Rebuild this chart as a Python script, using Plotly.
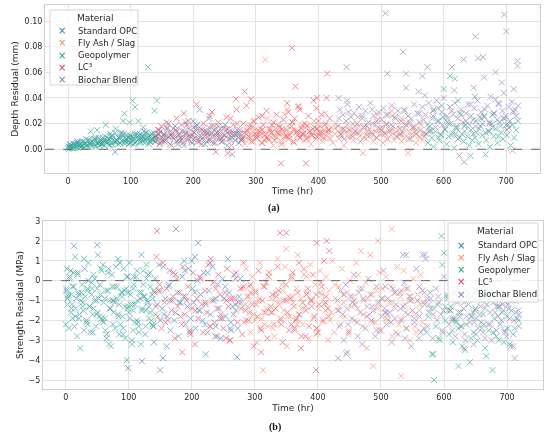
import plotly.graph_objects as go

# ---------------- data ----------------
materials = ["Standard OPC", "Fly Ash / Slag", "Geopolymer", "LC³", "Biochar Blend"]
colors = ["#2b78b5", "#fa7f5e", "#14a577", "#e8374f", "#8172b3"]

opc_time = [1, 4, 6, 9, 11, 14, 17, 19, 22, 25,
            27, 30, 33, 35, 38, 41, 43, 46, 49, 51,
            54, 57, 59, 62, 65, 67, 70, 73, 75, 78,
            81, 83, 86, 89, 91, 94, 97, 99, 102, 105,
            107, 110, 113, 115, 118, 121, 123, 126, 129, 131,
            134, 137, 139, 142, 145, 147, 150, 153, 155, 158,
            161, 163, 166, 169, 171, 174, 177, 179, 182, 185,
            187, 190, 193, 195, 198, 201, 203, 206, 209, 211,
            214, 217, 219, 222, 225, 227, 230, 233, 235, 238,
            241, 243, 246, 249, 251, 254, 257, 259, 262, 265,
            267, 270, 273, 275, 278, 13, 50, 75, 99, 121,
            150, 154, 175, 188, 210, 222, 225, 262, 272, 205,
            3, 8, 15, 21, 29, 36, 44, 52, 60, 68,
            76, 85, 93, 100, 108, 116, 124, 132, 140, 148,
            156, 164, 172, 180, 189, 197, 205, 213, 221, 229,
            237, 245, 253, 261, 269, 277, 120, 160, 200, 240]
opc_depth = [0.002, 0.003, 0.001, 0.004, 0.002, 0.005, 0.003, 0.006, 0.002, 0.004,
             0.005, 0.003, 0.007, 0.004, 0.006, 0.008, 0.003, 0.005, 0.009, 0.006,
             0.004, 0.007, 0.010, 0.005, 0.008, 0.003, 0.011, 0.006, 0.013, 0.007,
             0.009, 0.005, 0.010, 0.012, 0.006, 0.008, 0.004, 0.011, 0.007, 0.009,
             0.005, 0.012, 0.008, 0.006, 0.010, 0.014, 0.007, 0.009, 0.004, 0.011,
             0.008, 0.013, 0.006, 0.010, 0.015, 0.005, 0.009, 0.012, 0.007, 0.016,
             0.010, 0.004, 0.013, 0.008, 0.018, 0.006, 0.011, 0.009, 0.014, 0.003,
             0.012, 0.007, 0.016, 0.010, 0.005, 0.013, 0.009, 0.019, 0.006, 0.011,
             0.008, 0.014, 0.004, 0.012, 0.017, 0.007, 0.010, 0.015, 0.005, 0.013,
             0.009, 0.016, 0.006, 0.011, 0.019, 0.003, 0.012, 0.008, 0.014, 0.010,
             0.007, 0.015, 0.005, 0.012, 0.009, 0.004, 0.006, -0.002, 0.008, 0.010,
             0.006, 0.011, 0.004, 0.021, 0.031, 0.013, 0.024, -0.004, 0.012, 0.018,
             0.004, 0.002, 0.006, 0.003, 0.008, 0.005, 0.009, 0.004, 0.007, 0.010,
             0.006, 0.012, 0.008, 0.005, 0.011, 0.009, 0.013, 0.006, 0.010, 0.014,
             0.008, 0.011, 0.015, 0.007, 0.012, 0.009, 0.016, 0.010, 0.006, 0.013,
             0.011, 0.008, 0.015, 0.009, 0.012, 0.007, 0.017, 0.020, 0.022, 0.018]
opc_strength = [-0.5, -0.8, 0.2, -1.4, -0.3, -2.3, -0.9, 0.4, -1.7, -0.6,
                -1.1, 0.6, -2.0, -0.4, -1.3, -0.7, -2.6, 0.1, -1.0, -1.6,
                -0.2, -1.9, 0.8, -0.9, -2.9, -0.5, -1.4, 0.3, -2.2, -1.1,
                -0.3, -1.7, 0.9, -0.8, -2.4, -1.3, 0.2, -0.6, -1.9, -3.0,
                -0.4, -1.2, 0.5, -2.1, -0.9, -1.5, -0.2, -2.7, -1.0, 0.3,
                -1.6, -0.7, -2.3, 0.1, -1.2, -0.5, -2.0, -1.4, 0.7, -0.9,
                -1.8, -0.3, -2.5, -1.0, 0.4, -1.6, -0.6, -2.8, -1.1, 0.2,
                -0.8, -2.2, -1.3, 0.6, -1.9, -0.4, -1.1, -2.4, 0.0, -1.5,
                -0.7, -2.0, 0.4, -1.2, -2.6, -0.5, -1.7, 0.7, -1.0, -2.3,
                -0.2, -1.4, -2.9, 0.1, -0.9, -1.8, 1.1, -0.6, -2.1, -1.3,
                0.3, -1.5, -2.4, -0.8, -1.1, 1.75, 1.8, -1.0, -4.4, -4.05,
                -4.5, -3.9, 2.6, 1.0, 1.9, -3.7, 0.4, -2.5, -3.85, 1.2,
                -1.2, 0.5, -1.8, -0.7, -2.5, 0.0, -1.4, -0.9, -2.1, 0.6,
                -1.0, -2.7, -0.5, -1.6, 0.2, -2.3, -0.8, -1.3, -3.1, 0.8,
                -1.7, -0.2, -2.0, -1.1, 0.5, -2.6, -0.6, -1.5, -2.2, 0.9,
                -0.9, -1.9, -0.3, -2.4, -1.2, 0.1, 1.3, -3.3, 1.0, -2.8]

geo_time = [0, 1, 2, 3, 5, 6, 8, 9, 10, 12,
            13, 15, 16, 18, 20, 21, 23, 24, 26, 28,
            29, 31, 33, 34, 36, 38, 39, 41, 43, 44,
            46, 48, 50, 51, 53, 55, 57, 58, 60, 62,
            64, 65, 67, 69, 71, 72, 74, 76, 78, 80,
            81, 83, 85, 87, 88, 90, 92, 94, 96, 97,
            99, 101, 103, 105, 107, 108, 110, 112, 114, 116,
            117, 119, 121, 123, 125, 127, 128, 130, 132, 134,
            136, 138, 140, 103, 107, 128, 142, 90, 138, 98,
            572, 575, 578, 581, 584, 587, 590, 593, 596, 599,
            602, 605, 608, 611, 614, 617, 620, 623, 626, 629,
            632, 635, 638, 641, 644, 647, 650, 653, 656, 659,
            662, 665, 668, 671, 674, 677, 680, 683, 686, 689,
            692, 695, 698, 701, 704, 707, 710, 713, 716, 719,
            610, 618, 600, 650, 643, 667, 583, 597, 623, 678,
            4, 11, 19, 27, 35, 42, 49, 56, 63, 70,
            77, 84, 91, 98, 106, 113, 120, 127, 134, 139,
            579, 592, 606, 619, 633, 646, 660, 673, 687, 700]
geo_depth = [0.001, 0.000, 0.002, 0.001, 0.003, 0.001, 0.002, 0.004, 0.001, 0.003,
             0.002, 0.005, 0.001, 0.003, 0.004, 0.002, 0.006, 0.003, 0.002, 0.005,
             0.003, 0.007, 0.002, 0.004, 0.014, 0.003, 0.006, 0.004, 0.008, 0.002,
             0.015, 0.005, 0.003, 0.007, 0.004, 0.009, 0.005, 0.003, 0.019, 0.006,
             0.004, 0.008, 0.012, 0.005, 0.010, 0.003, 0.006, 0.016, 0.007, 0.004,
             0.009, 0.005, 0.013, 0.006, 0.022, 0.004, 0.008, 0.011, 0.006, 0.009,
             0.005, 0.010, 0.007, 0.004, 0.012, 0.006, 0.009, 0.022, 0.005, 0.008,
             0.011, 0.006, 0.009, 0.005, 0.013, 0.007, 0.010, 0.006, 0.008, 0.012,
             0.007, 0.009, 0.006, 0.038, 0.033, 0.064, 0.038, 0.028, 0.030, 0.021,
             0.012, 0.005, 0.018, 0.009, 0.002, 0.014, 0.022, 0.007, 0.011, 0.025,
             0.016, 0.004, 0.010, 0.020, 0.013, 0.001, 0.017, 0.008, 0.028, 0.012,
             0.006, 0.019, 0.010, 0.003, 0.015, 0.023, 0.009, 0.013, 0.004, 0.018,
             0.011, 0.026, 0.007, 0.014, 0.002, 0.020, 0.010, 0.016, 0.005, 0.021,
             0.013, 0.008, 0.024, 0.011, 0.017, 0.003, 0.019, 0.009, 0.015, 0.022,
             0.057, 0.055, 0.047, 0.041, -0.005, -0.004, 0.030, 0.034, 0.038, 0.027,
             0.002, 0.003, 0.004, 0.005, 0.004, 0.006, 0.005, 0.007, 0.006, 0.008,
             0.007, 0.009, 0.006, 0.010, 0.008, 0.011, 0.007, 0.009, 0.012, 0.010,
             0.015, 0.009, 0.021, 0.012, 0.018, 0.007, 0.024, 0.014, 0.010, 0.019]
geo_strength = [-2.2, -0.4, 0.6, -0.9, -2.4, 0.1, -1.6, -0.7, -1.2, 0.4,
                -0.3, 1.2, -1.4, -2.8, -0.6, -1.9, -3.4, -1.0, -0.2, -1.5,
                1.1, -0.8, -2.1, -0.5, 0.9, -1.3, -2.6, -0.1, -1.7, 0.3,
                -1.0, -2.3, -0.4, 1.3, -1.8, -0.7, 0.5, -2.0, -1.1, -1.9,
                -0.5, -2.7, 0.4, -3.2, -1.4, -3.3, -0.3, -1.6, -2.4, 0.7,
                -0.9, 1.1, -1.2, -2.2, -0.6, -1.8, 0.6, -2.9, -0.4, -4.0,
                -1.3, 0.9, -0.7, -3.2, -1.5, -0.2, -2.1, 0.2, -1.0, -2.6,
                -0.6, -3.2, -1.4, 0.5, -0.8, -2.3, 0.8, -1.1, -1.9, -0.3,
                -2.0, -0.9, -0.5, -1.2, -2.5, 0.1, -1.7, -0.6, -2.2, -1.4,
                -2.6, -1.8, -0.6, -3.7, -5.0, -2.3, -1.2, -3.0, 2.25, -1.5,
                -2.0, -0.8, -2.7, -1.3, -3.1, -1.9, -0.4, -2.4, -1.6, -3.3,
                -1.1, -2.2, -0.7, -4.1, -1.8, -2.6, -1.4, -3.0, -0.9, -2.1,
                -1.7, -3.4, -1.2, -2.5, -0.6, -4.5, -1.9, -2.8, -1.3, -2.2,
                -1.6, -3.1, -0.8, -2.4, -3.2, -1.5, -2.7, -1.0, -1.9, -2.3,
                -1.5, -2.0, 1.4, -0.5, -2.9, -3.8, -3.7, 0.8, -4.3, -2.6,
                -0.7, -1.9, 0.3, -1.3, -2.2, -0.4, -1.7, 0.6, -2.5, -1.0,
                -0.3, -1.8, -2.7, 0.2, -1.2, -2.0, -0.6, -1.5, 0.4, -2.3,
                -1.4, -2.9, -0.9, -2.1, -3.5, -1.6, -2.4, -0.7, -3.0, -1.8]

lc3_time = [141, 144, 146, 149, 152, 154, 157, 160, 162, 165,
            168, 170, 173, 176, 178, 181, 184, 186, 189, 192,
            194, 197, 200, 202, 205, 208, 210, 213, 216, 218,
            221, 224, 226, 229, 232, 234, 237, 240, 242, 245,
            248, 250, 253, 256, 258, 261, 264, 266, 269, 272,
            274, 277, 280, 282, 285, 288, 290, 293, 296, 298,
            301, 304, 306, 309, 312, 314, 317, 320, 322, 325,
            328, 330, 333, 336, 338, 341, 344, 346, 349, 352,
            354, 357, 360, 362, 365, 368, 370, 373, 376, 378,
            381, 384, 386, 389, 392, 394, 397, 400, 402, 405,
            408, 410, 413, 416, 418, 358, 282, 292, 268, 340,
            380, 398, 414, 145, 350, 185, 397, 236, 255, 363,
            143, 150, 158, 166, 174, 182, 190, 198, 206, 214,
            222, 230, 238, 246, 254, 262, 270, 278, 286, 294,
            302, 310, 318, 326, 334, 342, 350, 358, 366, 374,
            382, 390, 398, 406, 412, 417, 230, 310, 370, 260]
lc3_depth = [0.008, 0.015, 0.004, 0.018, 0.011, 0.006, 0.021, 0.009, 0.013, 0.003,
             0.016, 0.010, 0.024, 0.007, 0.012, 0.019, 0.005, 0.014, 0.009, 0.022,
             0.011, 0.006, 0.017, 0.013, 0.035, 0.008, 0.015, 0.004, 0.020, 0.010,
             0.014, 0.007, 0.026, 0.012, 0.005, 0.018, 0.009, 0.021, 0.013, 0.006,
             0.016, 0.011, 0.025, 0.008, 0.014, 0.003, 0.019, 0.012, 0.031, 0.009,
             0.015, 0.007, 0.020, 0.013, 0.034, 0.010, 0.017, 0.006, 0.022, 0.012,
             0.009, 0.025, 0.014, 0.005, 0.019, 0.011, 0.030, 0.008, 0.016, 0.013,
             0.021, 0.007, 0.027, 0.012, 0.017, 0.004, 0.023, 0.010, 0.015, 0.029,
             0.011, 0.018, 0.006, 0.024, 0.013, 0.033, 0.009, 0.016, 0.012, 0.020,
             0.008, 0.026, 0.014, 0.011, 0.038, 0.017, 0.010, 0.022, 0.013, 0.027,
             0.009, 0.019, 0.040, 0.015, 0.024, 0.079, 0.045, 0.039, 0.039, -0.011,
             -0.011, 0.040, 0.059, 0.012, 0.036, 0.028, 0.032, -0.002, -0.003, 0.049,
             0.012, 0.007, 0.017, 0.010, 0.014, 0.008, 0.019, 0.011, 0.006, 0.015,
             0.010, 0.018, 0.013, 0.009, 0.016, 0.012, 0.020, 0.008, 0.014, 0.017,
             0.011, 0.015, 0.009, 0.019, 0.013, 0.016, 0.010, 0.021, 0.014, 0.012,
             0.018, 0.011, 0.016, 0.013, 0.020, 0.015, 0.029, 0.026, 0.031, 0.024]
lc3_strength = [-0.6, 1.2, -1.8, -0.2, -2.4, 0.9, -1.1, -0.4, -2.0, 0.5,
                -1.5, -0.8, -2.9, 0.1, -1.3, -0.6, -2.2, 0.7, -1.7, -1.0,
                -0.3, -2.5, -1.4, 0.4, -3.2, -0.9, -1.9, 0.2, -1.2, -2.6,
                -0.5, -1.6, 0.8, -2.3, -1.0, -0.1, -2.8, -1.4, 0.3, -0.7,
                -1.9, -2.4, -0.6, 0.6, -1.3, -3.0, -0.9, -1.7, 0.1, -2.1,
                -1.1, -0.4, -2.7, 0.9, -1.5, -0.8, -2.0, -0.2, -1.2, -3.3,
                -0.6, -1.8, 0.5, -2.4, -1.0, -0.3, -1.6, -2.9, 0.2, -1.3,
                -0.7, -2.2, -1.4, 0.7, -0.5, -1.9, -3.1, -1.0, -0.2, -1.6,
                -2.5, -0.9, 0.4, -1.3, -2.0, -0.6, -1.7, -3.4, -1.1, 0.6,
                -1.5, -0.4, -2.3, -1.0, 0.3, -1.8, -0.7, -2.6, -1.2, -0.1,
                -2.0, 1.0, -0.8, -1.4, 1.5, -2.2, -0.3, -1.6, -0.9, 2.4,
                -2.8, 1.9, 2.0, 2.5, 2.4, -3.6, -4.5, -2.1, -1.0, -2.4,
                -1.3, -0.5, -2.1, -1.0, 0.3, -1.8, -0.8, -2.7, -1.5, 0.1,
                -1.1, -2.3, -0.4, -1.7, -2.9, -0.9, 0.4, -1.4, -2.0, -0.6,
                -1.2, -2.5, -0.1, -1.6, -0.8, -2.2, -1.0, 0.2, -1.9, -2.8,
                -0.7, -1.3, -2.4, -0.3, -1.1, -1.8, 1.1, -3.6, 0.9, -3.0]

fa_time = [281, 283, 286, 288, 291, 293, 296, 298, 301, 303,
           306, 308, 311, 313, 316, 318, 321, 323, 326, 328,
           331, 333, 336, 338, 341, 343, 346, 348, 351, 353,
           356, 358, 361, 363, 366, 368, 371, 373, 376, 378,
           381, 383, 386, 388, 391, 393, 396, 398, 401, 403,
           406, 408, 411, 413, 416, 418, 421, 423, 426, 428,
           431, 433, 436, 438, 441, 443, 446, 448, 451, 453,
           456, 458, 461, 463, 466, 468, 471, 473, 476, 478,
           481, 483, 486, 488, 491, 493, 496, 498, 501, 503,
           506, 508, 511, 513, 516, 518, 521, 523, 526, 528,
           531, 533, 536, 538, 541, 543, 546, 548, 551, 553,
           556, 558, 561, 563, 566, 568, 315, 517, 495, 532,
           285, 292, 300, 307, 314, 322, 329, 337, 344, 352,
           359, 367, 374, 382, 389, 397, 404, 412, 419, 427,
           434, 442, 449, 457, 464, 472, 479, 487, 494, 502,
           509, 517, 524, 532, 539, 547, 554, 562, 569, 350]
fa_depth = [0.010, 0.004, 0.015, 0.008, 0.019, 0.012, 0.006, 0.022, 0.009, 0.014,
            0.011, 0.017, 0.005, 0.013, 0.009, 0.024, 0.007, 0.015, 0.011, 0.003,
            0.016, 0.009, 0.020, 0.012, 0.006, 0.014, 0.027, 0.010, 0.018, 0.008,
            0.013, 0.021, 0.005, 0.015, 0.011, 0.034, 0.009, 0.017, 0.012, 0.007,
            0.019, 0.010, 0.014, 0.004, 0.016, 0.022, 0.008, 0.013, 0.011, 0.018,
            0.006, 0.015, 0.028, 0.010, 0.013, 0.009, 0.017, 0.005, 0.012, 0.020,
            0.014, 0.008, 0.011, 0.016, 0.003, 0.013, 0.019, 0.009, 0.015, 0.011,
            0.007, 0.017, 0.012, 0.025, 0.010, 0.014, -0.003, 0.018, 0.008, 0.013,
            0.016, 0.011, 0.020, 0.006, 0.014, 0.009, 0.023, 0.012, 0.017, 0.005,
            0.013, 0.019, 0.008, 0.015, 0.011, 0.026, 0.007, 0.014, 0.010, 0.018,
            0.012, 0.006, 0.016, 0.009, 0.021, -0.003, 0.013, 0.008, 0.017, 0.011,
            0.005, 0.015, 0.010, 0.019, 0.007, 0.012, 0.070, 0.030, 0.027, 0.024,
            0.012, 0.009, 0.016, 0.011, 0.007, 0.014, 0.010, 0.018, 0.013, 0.008,
            0.015, 0.011, 0.019, 0.009, 0.013, 0.016, 0.010, 0.014, 0.008, 0.017,
            0.012, 0.015, 0.010, 0.013, 0.018, 0.009, 0.014, 0.011, 0.016, 0.012,
            0.008, 0.015, 0.013, 0.010, 0.017, 0.011, 0.014, 0.009, 0.013, 0.031]
fa_strength = [-0.4, -2.1, 0.6, -1.3, -0.8, -2.6, 0.2, -1.7, -0.5, -3.1,
               -1.0, 0.9, -1.9, -4.5, -0.3, -1.4, -2.3, 0.4, -0.9, -1.6,
               -2.8, -0.6, 1.1, -1.2, -2.0, -0.2, -1.5, 0.7, -3.3, -0.8,
               -1.8, 0.1, -1.1, -2.5, -0.4, 1.3, -1.7, -0.9, -2.2, 0.3,
               -1.3, -0.6, -2.9, 0.8, -1.0, -1.9, -0.2, -2.4, -1.4, 0.5,
               -0.7, -2.1, -1.2, 0.2, -3.0, -0.5, -1.6, 1.0, -2.6, -0.9,
               -1.5, -0.3, -2.2, 0.6, -1.1, -1.8, -0.6, -2.7, 0.0, -1.3,
               -0.8, -2.0, 0.9, -1.4, -0.4, 1.5, -2.3, -1.0, -0.1, -3.4,
               -1.7, 1.3, -0.7, -4.3, -2.1, -0.5, -1.2, 0.4, -2.5, -0.9,
               -1.6, 0.2, -2.0, -1.1, -0.3, -2.8, -0.6, -1.4, 0.7, -2.2,
               -0.8, -1.9, 0.5, -1.2, -2.4, -0.4, -3.0, -1.0, 0.1, -1.7,
               -2.6, -0.7, -1.5, 0.3, -2.1, -1.1, -2.2, 2.6, 2.0, -4.8,
               -1.2, -0.3, -2.0, -0.9, -1.6, 0.4, -2.4, -1.1, -0.5, -1.8,
               -0.8, -2.2, -1.4, 0.2, -1.0, -2.7, -0.6, -1.5, -2.0, -0.2,
               -1.3, -0.7, -2.5, -1.0, 0.3, -1.7, -0.9, -2.1, -1.4, -0.4,
               -1.9, -1.1, -2.6, -0.5, -1.6, -0.8, -2.3, -1.2, -0.6, 1.6]

bc_time = [431, 434, 436, 439, 441, 444, 446, 449, 452, 454,
           457, 459, 462, 465, 467, 470, 472, 475, 478, 480,
           483, 485, 488, 491, 493, 496, 498, 501, 504, 506,
           509, 511, 514, 517, 519, 522, 524, 527, 530, 532,
           535, 537, 540, 543, 545, 548, 550, 553, 556, 558,
           561, 563, 566, 569, 571, 574, 576, 579, 582, 584,
           587, 589, 592, 595, 597, 600, 602, 605, 608, 610,
           613, 615, 618, 621, 623, 626, 628, 631, 634, 636,
           639, 641, 644, 647, 649, 652, 654, 657, 660, 662,
           665, 667, 670, 673, 675, 678, 680, 683, 686, 688,
           691, 694, 696, 699, 701, 704, 706, 709, 712, 714,
           507, 697, 700, 651, 535, 663, 655, 632, 718, 718,
           445, 574, 613, 683, 540, 510, 566, 665, 693, 648,
           625, 633, 710, 432, 446, 560, 540, 570, 617, 712,
           433, 440, 448, 455, 463, 470, 478, 486, 493, 501,
           508, 516, 523, 531, 538, 546, 553, 561, 568, 576,
           583, 591, 598, 606, 613, 621, 628, 636, 643, 651,
           658, 666, 673, 681, 688, 696, 703, 711, 716, 719]
bc_depth = [0.018, 0.031, 0.012, 0.027, 0.008, 0.022, 0.035, 0.015, 0.025, 0.010,
            0.028, 0.014, 0.020, 0.033, 0.006, 0.024, 0.017, 0.030, 0.011, 0.021,
            0.036, 0.013, 0.026, 0.019, 0.009, 0.029, 0.016, 0.023, 0.032, 0.012,
            0.020, 0.027, 0.014, 0.034, 0.018, 0.025, 0.010, 0.030, 0.016, 0.022,
            0.013, 0.031, 0.019, 0.026, 0.008, 0.024, 0.017, 0.035, 0.012, 0.028,
            0.021, 0.015, 0.033, 0.010, 0.027, 0.019, 0.036, 0.014, 0.024, 0.031,
            0.017, 0.038, 0.022, 0.012, 0.029, 0.040, 0.015, 0.026, 0.020, 0.033,
            0.011, 0.027, 0.036, 0.018, 0.024, 0.009, 0.031, 0.021, 0.014, 0.028,
            0.035, 0.019, 0.026, 0.012, 0.032, 0.022, 0.038, 0.016, 0.029, 0.020,
            0.025, 0.013, 0.034, 0.021, 0.041, 0.017, 0.028, 0.039, 0.023, 0.035,
            0.018, 0.030, 0.044, 0.026, 0.015, 0.033, 0.022, 0.037, 0.029, 0.031,
            0.106, 0.105, 0.092, 0.088, 0.076, 0.072, 0.071, 0.070, 0.069, 0.065,
            0.064, 0.064, 0.064, 0.060, 0.059, 0.059, 0.057, 0.056, 0.052, 0.048,
            -0.005, -0.010, -0.001, 0.040, 0.038, 0.045, 0.048, 0.042, 0.046, 0.047,
            0.024, 0.016, 0.029, 0.020, 0.013, 0.026, 0.018, 0.031, 0.022, 0.015,
            0.027, 0.019, 0.024, 0.012, 0.030, 0.021, 0.017, 0.028, 0.023, 0.014,
            0.026, 0.032, 0.019, 0.024, 0.030, 0.016, 0.027, 0.022, 0.035, 0.018,
            0.025, 0.031, 0.020, 0.028, 0.036, 0.024, 0.019, 0.030, 0.026, 0.034]
bc_strength = [-1.0, -2.3, -0.5, -1.7, -3.0, -0.2, -1.4, -2.6, -0.8, -1.9,
               0.3, -1.2, -2.1, -0.6, -1.6, -3.2, -0.9, -2.4, -1.3, 0.1,
               -0.7, -2.0, -1.5, -2.8, -0.3, -1.1, -2.5, -1.8, 0.5, -1.4,
               -2.2, -0.9, -1.6, -3.1, -0.4, -1.9, -1.2, -2.7, -0.6, -2.0,
               -1.3, -0.1, -2.4, -1.7, -0.8, -3.3, -1.5, -2.1, 0.6, -1.0,
               -1.8, -2.6, -0.5, -1.2, 1.1, -2.3, -1.6, -0.9, -2.9, -1.4,
               -0.4, -2.0, -1.1, -1.7, -2.5, 0.2, -1.3, -0.7, -2.2, -1.5,
               -1.9, -0.6, -2.8, -1.0, -1.6, -2.3, -0.3, -1.4, -3.0, -1.8,
               -1.2, -2.1, -0.8, -3.2, -1.5, -0.5, -2.4, -1.7, -1.0, -2.6,
               -1.4, -0.9, -2.2, -1.6, -3.0, -1.1, -0.6, -2.5, -1.8, -1.3,
               -2.0, -1.5, -0.7, -2.8, -1.2, -1.9, -3.3, -1.0, -2.4, -1.6,
               -0.3, -2.6, -1.1, -1.9, 1.3, -2.2, -0.8, -3.4, -1.5, -2.0,
               -3.7, -0.9, -2.5, -1.3, -0.4, -1.7, 1.3, -2.9, -1.2, -2.1,
               -1.8, -2.7, -3.3, -3.9, -3.6, -2.9, 1.3, 1.3, -0.6, -3.9,
               -1.5, -0.7, -2.2, -1.1, -2.8, -0.4, -1.8, -1.3, -2.5, -0.9,
               -1.6, -2.1, -0.6, -1.4, -2.9, -1.0, -1.9, -0.3, -2.4, -1.2,
               -1.7, -0.8, -2.6, -1.5, -2.0, -1.1, -2.3, -0.5, -1.8, -2.7,
               -1.3, -0.9, -2.2, -1.6, -1.0, -2.5, -1.4, -2.0, -0.8, -1.7]

x_ticks = [0, 100, 200, 300, 400, 500, 600, 700]
depth_ticks = [0.00, 0.02, 0.04, 0.06, 0.08, 0.10]
strength_ticks = [-5, -4, -3, -2, -1, 0, 1, 2, 3]

series = {
    "Standard OPC": (opc_time, opc_depth, opc_strength),
    "Fly Ash / Slag": (fa_time, fa_depth, fa_strength),
    "Geopolymer": (geo_time, geo_depth, geo_strength),
    "LC³": (lc3_time, lc3_depth, lc3_strength),
    "Biochar Blend": (bc_time, bc_depth, bc_strength),
}

# ---------------- figure ----------------
W, H = 550, 444
FONT = "DejaVu Sans"
TXT = "#262626"
GRID = "#e3e3e3"
LINE = "#cfcfcf"


def px(x):
    return x / W


def py(y):
    return 1 - y / H


fig = go.Figure()
for name, col in zip(materials, colors):
    t, d, s = series[name]
    mk = dict(symbol="x-thin", size=6, color=col, line=dict(width=1, color=col))
    fig.add_trace(go.Scatter(x=t, y=d, mode="markers", name=name, marker=mk,
                             opacity=0.6, xaxis="x", yaxis="y", showlegend=False))
    fig.add_trace(go.Scatter(x=t, y=s, mode="markers", name=name, marker=mk,
                             opacity=0.6, xaxis="x2", yaxis="y2", showlegend=False))

axis_common = dict(showgrid=True, gridcolor=GRID, gridwidth=1, showline=True,
                   linecolor=LINE, linewidth=1, mirror=True, zeroline=False,
                   ticks="", automargin=False,
                   tickfont=dict(family=FONT, size=8, color=TXT))

fig.update_layout(
    width=W, height=H,
    margin=dict(l=0, r=0, t=0, b=0),
    paper_bgcolor="white", plot_bgcolor="white",
    font=dict(family=FONT, color=TXT, size=8),
    showlegend=False,
    xaxis=dict(domain=[px(45), px(540)], range=[-37, 754], tickvals=x_ticks,
               anchor="y", title=dict(text="Time (hr)", font=dict(size=9), standoff=3),
               **axis_common),
    yaxis=dict(domain=[py(173), py(5)], range=[-0.0185, 0.1125],
               tickvals=depth_ticks, tickformat=".2f", anchor="x",
               title=dict(text="Depth Residual (mm)", font=dict(size=9), standoff=4),
               **axis_common),
    xaxis2=dict(domain=[px(43), px(543)], range=[-36, 757], tickvals=x_ticks,
                anchor="y2", title=dict(text="Time (hr)", font=dict(size=9), standoff=4),
                **axis_common),
    yaxis2=dict(domain=[py(389), py(221)], range=[-5.45, 3.0],
                tickvals=strength_ticks, anchor="x2",
                title=dict(text="Strength Residual (MPa)", font=dict(size=9), standoff=3),
                **axis_common),
)

# dashed zero lines
for xr, yr in [("x domain", "y"), ("x2 domain", "y2")]:
    fig.add_shape(type="line", xref=xr, yref=yr, x0=0, x1=1, y0=0, y1=0,
                  line=dict(color="#666666", width=1, dash="dash"), layer="above")


# legends ("Material") drawn as boxed text, one per panel
def draw_legend(box, title_xy, first_row_y, row_gap, mark_x, text_x):
    x0, y0, x1, y1 = box
    fig.add_shape(type="rect", xref="paper", yref="paper",
                  x0=px(x0), x1=px(x1), y0=py(y1), y1=py(y0),
                  fillcolor="rgba(255,255,255,0.85)",
                  line=dict(color="#d6d6d6", width=1), layer="above")
    fig.add_annotation(text="Material", x=px(title_xy[0]), y=py(title_xy[1]),
                       xref="paper", yref="paper", showarrow=False,
                       xanchor="center", yanchor="middle",
                       font=dict(family=FONT, size=9, color=TXT))
    for i, (name, col) in enumerate(zip(materials, colors)):
        yy = first_row_y + i * row_gap
        fig.add_annotation(text="×", x=px(mark_x), y=py(yy), xref="paper", yref="paper",
                           showarrow=False, xanchor="center", yanchor="middle",
                           font=dict(family=FONT, size=10, color=col))
        fig.add_annotation(text=name, x=px(text_x), y=py(yy), xref="paper", yref="paper",
                           showarrow=False, xanchor="left", yanchor="middle",
                           font=dict(family=FONT, size=8.5, color=TXT))


draw_legend((50, 10, 138, 85), (95, 18), 30.7, 12.2, 62, 76)
draw_legend((448, 223, 538, 302), (495, 231.5), 245.3, 12.2, 461, 476)

# panel labels
fig.add_annotation(text="<b>(a)</b>", x=px(274), y=py(208), xref="paper", yref="paper",
                   showarrow=False, font=dict(family="Liberation Serif", size=10, color="#111"))
fig.add_annotation(text="<b>(b)</b>", x=px(275), y=py(435), xref="paper", yref="paper",
                   showarrow=False, font=dict(family="Liberation Serif", size=10, color="#111"))

# the page body's default 8px margin would shift the figure; remove it
fig.write_html("out.html",
               config={"displayModeBar": False},
               post_script="document.body.style.margin='0';"
                           "document.body.style.overflow='hidden';")
